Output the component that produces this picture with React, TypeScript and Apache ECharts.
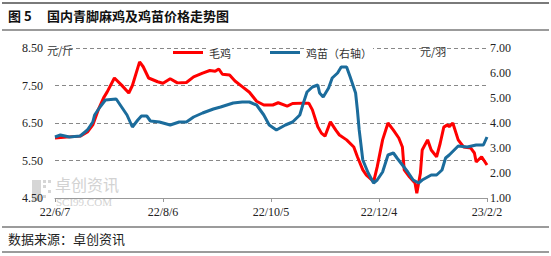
import React, { useEffect, useRef } from "react";
import * as echarts from "echarts";

const xTickLabels = ["22/6/7", "22/8/6", "22/10/5", "22/12/4", "23/2/2"];

const broilerDays = [0, 8, 14, 18, 21, 24, 27, 29, 33, 37, 41, 43, 47, 49, 52, 57, 60, 64, 68, 73, 77, 82, 86, 89, 91, 93, 97, 100, 104, 108, 112, 116, 121, 124, 129, 132, 138, 141, 143, 146, 148, 150, 153, 156, 158, 162, 166, 168, 171, 173, 176, 177, 179, 182, 185, 188, 191, 193, 194, 197, 200, 201, 203, 204, 207, 209, 212, 214, 216, 218, 219, 221, 224, 227, 231, 233, 234, 237, 240];
const broilerPrice = [6.1, 6.13, 6.15, 6.26, 6.45, 6.85, 7.17, 7.33, 7.7, 7.51, 7.3, 7.5, 8.13, 8.0, 7.7, 7.6, 7.56, 7.68, 7.57, 7.58, 7.73, 7.83, 7.9, 7.88, 7.94, 7.8, 7.78, 7.62, 7.47, 7.32, 7.08, 6.98, 6.98, 7.04, 6.95, 7.02, 7.03, 7.03, 6.85, 6.4, 6.23, 6.15, 6.53, 6.31, 6.18, 6.05, 5.86, 5.6, 5.25, 5.11, 4.98, 4.93, 5.33, 6.05, 6.5, 6.31, 6.1, 5.86, 5.25, 5.06, 4.9, 4.63, 5.16, 5.78, 6.05, 5.78, 5.6, 5.96, 6.39, 6.45, 6.4, 6.5, 6.05, 5.86, 5.83, 5.7, 5.46, 5.6, 5.38];

const chickDays = [0, 3, 8, 14, 18, 21, 22, 25, 28, 34, 37, 40, 43, 46, 48, 51, 53, 58, 64, 69, 73, 77, 82, 88, 92, 99, 104, 108, 112, 116, 119, 123, 128, 132, 136, 138, 140, 143, 146, 147, 149, 152, 154, 157, 159, 162, 164, 167, 168, 169, 171, 174, 177, 179, 182, 185, 188, 190, 193, 196, 199, 202, 204, 209, 212, 215, 217, 219, 224, 229, 234, 238, 240];
const chickPrice = [3.44, 3.52, 3.44, 3.48, 3.72, 4.04, 4.32, 4.64, 4.92, 4.96, 4.64, 4.32, 3.84, 4.12, 4.28, 4.28, 4.08, 4.04, 3.92, 4.04, 4.04, 4.24, 4.4, 4.56, 4.64, 4.8, 4.84, 4.84, 4.72, 4.32, 3.92, 3.72, 3.92, 4.04, 4.32, 4.8, 5.24, 5.44, 5.52, 5.2, 5.04, 5.4, 5.8, 6.0, 6.24, 6.24, 5.84, 5.2, 4.52, 3.72, 2.52, 2.0, 1.6, 1.72, 2.04, 2.72, 2.8, 2.6, 2.32, 2.04, 1.72, 1.6, 1.72, 1.92, 1.92, 2.12, 2.6, 2.72, 3.08, 3.04, 3.12, 3.12, 3.44];

const RED = "#FF0000";
const BLUE = "#1B6C9C";
const CJK = "'Noto Sans CJK SC', sans-serif";
const NUM = "'Liberation Serif', serif";

export default function App() {
  const ref = useRef<HTMLDivElement>(null);
  useEffect(() => {
    if (!ref.current) return;
    const chart = echarts.init(ref.current, undefined, { renderer: "svg" });
    const hline = (y: number, w: number) => ({
      type: "line",
      shape: { x1: 2, y1: y, x2: 549, y2: y },
      style: { stroke: "#7a7a7a", lineWidth: w },
      silent: true,
    });
    chart.setOption({
      animation: false,
      backgroundColor: "#ffffff",
      grid: { left: 55, right: 64, top: 48, bottom: 58 },
      legend: {
        left: 168,
        top: 42,
        icon: "rect",
        itemWidth: 30,
        itemHeight: 3,
        itemGap: 38,
        textStyle: { fontFamily: CJK, fontSize: 11, color: "#333", backgroundColor: "#fff", padding: [0, 1] },
        data: ["毛鸡", "鸡苗（右轴）"],
      },
      xAxis: {
        type: "value",
        min: 0,
        max: 240,
        interval: 60,
        axisLine: { show: true, lineStyle: { color: "#999", width: 1 } },
        axisTick: { show: true, length: 4, lineStyle: { color: "#999" } },
        splitLine: { show: false },
        axisLabel: {
          margin: 8,
          fontFamily: NUM,
          fontSize: 12,
          color: "#222",
          formatter: (v: number) => xTickLabels[Math.round(v / 60)] ?? "",
        },
      },
      yAxis: [
        {
          type: "value",
          min: 4.5,
          max: 8.5,
          interval: 1,
          axisLine: { show: false },
          axisTick: { show: false },
          splitLine: { show: true, lineStyle: { color: "#888", type: [4, 3], width: 1 } },
          axisLabel: { margin: 12, fontFamily: NUM, fontSize: 12, color: "#222", formatter: (v: number) => v.toFixed(2) },
        },
        {
          type: "value",
          min: 1,
          max: 7,
          interval: 1,
          axisLine: { show: false },
          axisTick: { show: false },
          splitLine: { show: false },
          axisLabel: { margin: 3, fontFamily: NUM, fontSize: 12, color: "#222", formatter: (v: number) => v.toFixed(2) },
        },
      ],
      series: [
        {
          name: "毛鸡",
          type: "line",
          yAxisIndex: 0,
          symbol: "none",
          lineStyle: { color: RED, width: 3 },
          itemStyle: { color: RED },
          data: broilerDays.map((d, i) => [d, broilerPrice[i]]),
          z: 2,
        },
        {
          name: "鸡苗（右轴）",
          type: "line",
          yAxisIndex: 1,
          symbol: "none",
          lineStyle: { color: BLUE, width: 3 },
          itemStyle: { color: BLUE },
          data: chickDays.map((d, i) => [d, chickPrice[i]]),
          z: 3,
        },
      ],
      graphic: [
        hline(3, 2),
        hline(30, 1.5),
        hline(227, 1.5),
        hline(252, 1.5),
        { type: "text", left: 8, top: 9, style: { text: "图 5", font: `bold 13px ${CJK}`, fill: "#111" } },
        { type: "text", left: 47, top: 9, style: { text: "国内青脚麻鸡及鸡苗价格走势图", font: `bold 13px ${CJK}`, fill: "#111" } },
        { type: "text", left: 8, top: 232, style: { text: "数据来源：卓创资讯", font: `13px ${CJK}`, fill: "#222" } },
        { type: "text", left: 47, top: 44, style: { text: "元/斤", font: `11px ${CJK}`, fill: "#333", backgroundColor: "#fff" } },
        { type: "text", left: 420, top: 45, style: { text: "元/羽", font: `11px ${CJK}`, fill: "#333", backgroundColor: "#fff" } },
        { type: "rect", shape: { x: 32, y: 180, width: 9, height: 21 }, style: { fill: "#d6d6d6" }, z: 0 },
        { type: "rect", shape: { x: 43, y: 180, width: 3, height: 3 }, style: { fill: "#d6d6d6" }, z: 0 },
        { type: "rect", shape: { x: 48, y: 180, width: 3, height: 3 }, style: { fill: "#d6d6d6" }, z: 0 },
        { type: "rect", shape: { x: 43, y: 185, width: 3, height: 3 }, style: { fill: "#d6d6d6" }, z: 0 },
        { type: "rect", shape: { x: 48, y: 190, width: 3, height: 3 }, style: { fill: "#d6d6d6" }, z: 0 },
        { type: "rect", shape: { x: 43, y: 195, width: 3, height: 3 }, style: { fill: "#d6d6d6" }, z: 0 },
        { type: "text", left: 55, top: 176, style: { text: "卓创资讯", font: `16px ${CJK}`, fill: "#d2d2d2" }, z: 0 },
        { type: "text", left: 56, top: 196, style: { text: "SCI99.COM", font: `11px ${NUM}`, fill: "#d2d2d2" }, z: 0 },
      ],
    });
    return () => chart.dispose();
  }, []);
  return <div ref={ref} style={{ position: "fixed", left: 0, top: 0, width: 551, height: 256 }} />;
}
